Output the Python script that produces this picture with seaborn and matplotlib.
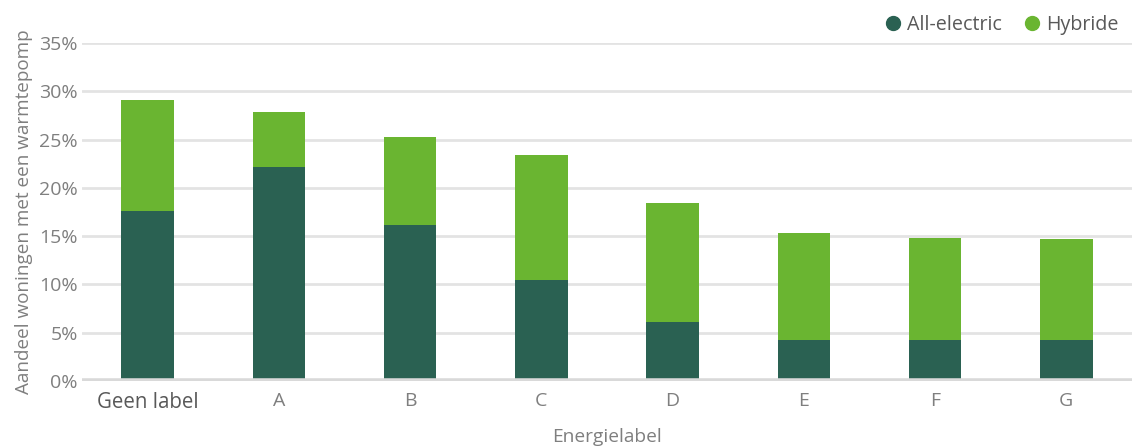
import matplotlib
matplotlib.use("Agg")
import matplotlib.pyplot as plt
from matplotlib.lines import Line2D
import seaborn as sns
import pandas as pd

categories = ["Geen label", "A", "B", "C", "D", "E", "F", "G"]
all_electric = [17.6, 22.2, 16.2, 10.5, 6.1, 4.2, 4.2, 4.2]
hybride = [11.5, 5.7, 9.1, 12.9, 12.3, 11.1, 10.6, 10.5]
yticks = [0, 5, 10, 15, 20, 25, 30, 35]
ytick_labels = ["0%", "5%", "10%", "15%", "20%", "25%", "30%", "35%"]

DARK = "#2a6152"
GREEN = "#6ab531"
TXT = "#7f7f7f"

sns.set_theme(style="white")
plt.rcParams["font.family"] = ["Open Sans", "DejaVu Sans"]

df = pd.DataFrame({
    "label": categories,
    "ae": all_electric,
    "total": [a + h for a, h in zip(all_electric, hybride)],
})

fig = plt.figure(figsize=(11.32, 4.48), dpi=100)
ax = fig.add_axes([82 / 1132, 1 - 381 / 448, 1 - 82 / 1132, (381 - 43) / 448])

sns.barplot(data=df, x="label", y="total", color=GREEN, saturation=1, width=0.4,
            linewidth=0, ax=ax, zorder=3)
sns.barplot(data=df, x="label", y="ae", color=DARK, saturation=1, width=0.4,
            linewidth=0, ax=ax, zorder=3)

ax.set_ylim(0, 35)
ax.set_xlim(-0.5, len(categories) - 0.5)
ax.set_yticks(yticks)
ax.set_yticklabels(ytick_labels)
for y in yticks[1:]:
    ax.axhline(y, color="#e3e3e3", lw=2, zorder=1)
ax.axhline(0, color="#d9d9d9", lw=4, zorder=4)

for s in ax.spines.values():
    s.set_visible(False)
ax.tick_params(axis="both", length=0, labelsize=14, labelcolor=TXT)
ax.tick_params(axis="x", pad=8)
ax.tick_params(axis="y", pad=3)
for t in ax.get_xticklabels():
    if t.get_text() == "Geen label":
        t.set_color("#595959")
        t.set_fontsize(14.8)

ax.set_xlabel("Energielabel", color=TXT, fontsize=13.8)
ax.xaxis.set_label_coords(0.5, -(428 - 381) / 338)
ax.set_ylabel("Aandeel woningen met een warmtepomp", color=TXT, fontsize=13.6)
ax.yaxis.set_label_coords(-(82 - 33) / 1050, 0.5)

handles = [
    Line2D([], [], marker="o", ls="", color=DARK, markersize=10, label="All-electric"),
    Line2D([], [], marker="o", ls="", color=GREEN, markersize=10, label="Hybride"),
]
fig.legend(handles=handles, loc="center right", bbox_to_anchor=(1127 / 1132, 1 - 25 / 448),
           ncol=2, frameon=False, fontsize=14.2, handletextpad=0.25, columnspacing=1.0,
           handlelength=1.0, labelcolor="#595959", borderaxespad=0)

fig.savefig("out.png", dpi=100)
